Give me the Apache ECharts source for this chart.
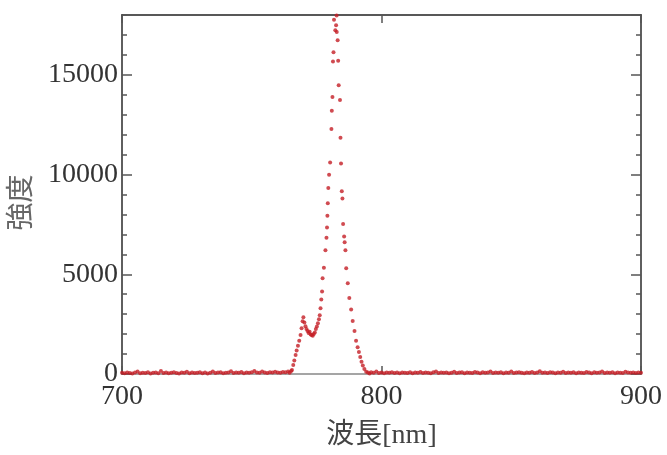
<!DOCTYPE html>
<html>
<head>
<meta charset="utf-8">
<script src="https://cdn.jsdelivr.net/npm/echarts@6/dist/echarts.min.js"></script>
<style>
html,body{margin:0;padding:0;background:#fff;}
#chart{width:667px;height:455px;}
</style>
</head>
<body>
<div id="chart"></div>
<script>
// Baseline left of the peak (nm, intensity)
var baseLeftWl = [700,701,702,703,704,705,706,707,708,709,
  710,711,712,713,714,715,716,717,718,719,
  720,721,722,723,724,725,726,727,728,729,
  730,731,732,733,734,735,736,737,738,739,
  740,741,742,743,744,745,746,747,748,749,
  750,751,752,753,754,755,756,757,758,759,
  760,761,762,763];
var baseLeftInt = [60,40,80,50,30,70,120,40,60,50,
  90,30,60,80,40,150,50,70,40,60,
  90,50,30,80,60,110,40,70,50,60,
  90,40,80,30,60,130,50,70,90,40,
  60,80,140,50,70,60,100,40,80,60,
  90,150,70,60,120,80,50,90,70,110,
  80,60,100,90];

// Peak region
var peakWl = [764.0,764.6,765.2,765.5,766.0,766.4,766.9,767.3,767.8,768.3,
  768.8,769.2,769.6,769.9,770.3,770.7,771.1,771.5,771.9,772.3,
  772.7,773.1,773.5,773.9,774.3,774.7,775.1,775.5,775.9,776.2,
  776.5,776.8,777.1,777.3,777.8,778.4,778.8,779.0,779.15,779.3,
  779.5,779.8,780.2,780.7,780.85,781.1,781.3,781.5,781.7,782.2,
  782.5,782.7,782.75,783.1,783.3,783.5,784.0,784.2,784.4,784.7,
  784.95,785.2,785.6,785.8,786.1,786.4,787.0,787.6,788.3,788.9,
  789.6,790.2,790.8,791.3,791.8,792.3,792.8,793.4,794.1,794.8,
  795.4,796.0];
var peakInt = [120,60,150,200,450,680,950,1180,1420,1670,
  1950,2300,2650,2850,2580,2400,2250,2160,2050,2120,
  1980,1950,1920,2000,2080,2250,2380,2550,2750,2950,
  3300,3730,4140,4800,5330,6200,6830,7350,7930,8560,
  9330,9990,10610,12290,13200,13890,15670,16130,17760,17230,
  17480,17970,17150,16740,15700,14480,13740,11850,10560,9160,
  8800,7520,6890,6610,6200,5300,4550,3810,3240,2660,
  2160,1670,1340,1100,850,620,430,250,110,80,
  30,90];

// Baseline right of the peak
var baseRightWl = [797,798,799,800,801,802,803,804,805,806,
  807,808,809,810,811,812,813,814,815,816,
  817,818,819,820,821,822,823,824,825,826,
  827,828,829,830,831,832,833,834,835,836,
  837,838,839,840,841,842,843,844,845,846,
  847,848,849,850,851,852,853,854,855,856,
  857,858,859,860,861,862,863,864,865,866,
  867,868,869,870,871,872,873,874,875,876,
  877,878,879,880,881,882,883,884,885,886,
  887,888,889,890,891,892,893,894,895,896,
  897,898,899,900];
var baseRightInt = [60,120,50,80,40,70,60,90,50,70,
  40,80,60,50,90,40,70,60,100,50,
  80,60,40,90,120,50,70,60,80,40,
  60,110,50,70,90,40,80,60,50,100,
  70,40,90,60,80,130,50,70,60,90,
  40,80,60,120,50,70,90,60,40,80,
  60,100,50,70,140,60,80,50,90,70,
  40,80,60,110,50,70,60,90,40,80,
  60,50,100,70,40,90,60,80,130,50,
  70,60,90,40,80,60,50,110,70,60,
  80,50,70,60];

var xTicks = [700, 800, 900];
var yTicks = [0, 5000, 10000, 15000];

function pairs(wl, it){ var o=[]; for (var i=0;i<wl.length;i++) o.push([wl[i], it[i]]); return o; }
var data = pairs(baseLeftWl, baseLeftInt).concat(pairs(peakWl, peakInt), pairs(baseRightWl, baseRightInt));

var FONT = "'Liberation Serif','Noto Sans CJK JP',serif";
var chart = echarts.init(document.getElementById('chart'), null, {renderer:'canvas'});

function xAx(pos, labels) {
  return {
    type:'value', min:xTicks[0], max:xTicks[xTicks.length-1], interval:100, position:pos,
    axisLine:{show:true, onZero:false, lineStyle:{color: pos==='top' ? '#222' : '#888', width:1.5}},
    axisTick:{show:true, inside:true, length:8, lineStyle:{color:'#555', width:1.5}},
    axisLabel:{show:labels, fontSize:28, color:'#333', fontFamily:FONT, margin:9,
      formatter:function(v){ return String(v); }},
    splitLine:{show:false}
  };
}
function yAx(pos, interval, tickLen, labels) {
  return {
    type:'value', min:0, max:18000, interval:interval, position:pos,
    axisLine:{show:true, onZero:false, lineStyle:{color:'#555', width:1.5}},
    axisTick:{show:true, inside:true, length:tickLen, lineStyle:{color:'#555', width:1.5}},
    axisLabel:{show:labels, fontSize:28, color:'#333', fontFamily:FONT, margin:4, showMaxLabel:false,
      formatter:function(v){ return yTicks.indexOf(v) >= 0 ? String(v) : ''; }},
    splitLine:{show:false}
  };
}

var xBottom = xAx('bottom', true);
xBottom.name = '波長[nm]';
xBottom.nameLocation = 'middle';
xBottom.nameGap = 48;
xBottom.nameTextStyle = {fontSize:28, color:'#444', fontFamily:FONT};

var yLeft = yAx('left', 5000, 10, true);
yLeft.name = '強度';
yLeft.nameLocation = 'middle';
yLeft.nameRotate = 90;
yLeft.nameGap = 70;
yLeft.nameTextStyle = {fontSize:28, color:'#666', fontFamily:FONT, padding:[0,16,0,0]};

chart.setOption({
  animation:false,
  backgroundColor:'#fff',
  grid:{left:122, right:26, top:15, bottom:74, containLabel:false},
  xAxis:[xBottom, xAx('top', false)],
  yAxis:[yLeft, yAx('left', 1000, 5, false), yAx('right', 5000, 10, false), yAx('right', 1000, 5, false)],
  series:[{
    type:'scatter', xAxisIndex:0, yAxisIndex:0, data:data,
    symbol:'circle', symbolSize:4,
    itemStyle:{color:'#c41e26'},
    clip:true, z:5
  }]
});
</script>
</body>
</html>
